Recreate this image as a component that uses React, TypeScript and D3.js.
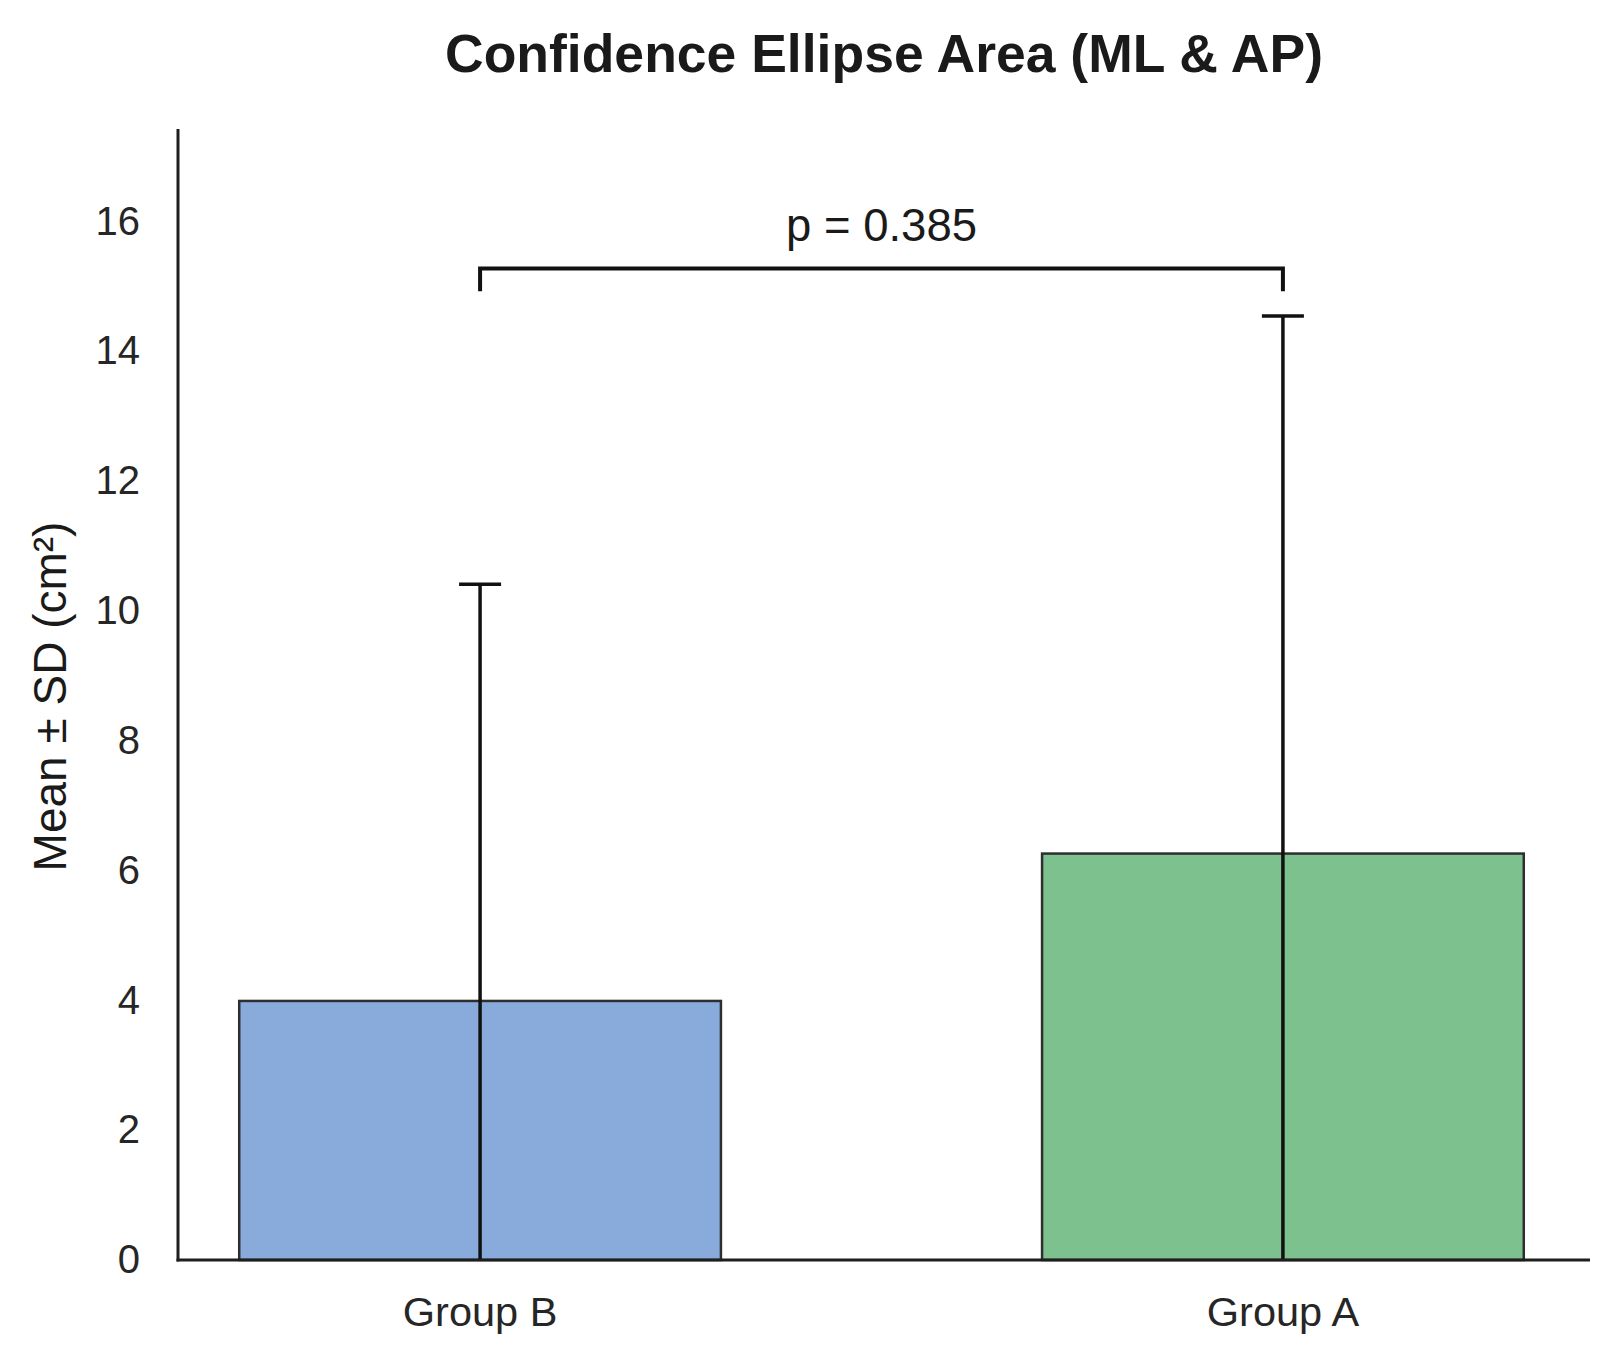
import { useRef, useEffect } from 'react';
import * as d3 from 'd3';

const groups = ['Group B', 'Group A'];
const means = [3.99, 6.26];
const sds = [6.42, 8.28];
const barColors = ['#88abdb', '#7cc18e'];
const yTicks = [0, 2, 4, 6, 8, 10, 12, 14, 16];
const pLabel = 'p = 0.385';
const bracketLevel = 15.27;
const bracketDrop = 0.35;

const WIDTH = 1618;
const HEIGHT = 1360;
const FONT = "'Liberation Sans', Arial, Helvetica, sans-serif";

export default function App() {
  const svgRef = useRef<SVGSVGElement>(null);

  useEffect(() => {
    document.body.style.margin = '0';
    const svg = d3.select(svgRef.current);
    svg.selectAll('*').remove();

    const left = 178;
    const right = 1590;
    const top = 129;
    const bottom = 1260;

    const x = d3
      .scaleBand<string>()
      .domain(groups)
      .range([left - 3, right - 2])
      .paddingInner(0.4)
      .paddingOuter(0.08);

    const y = d3.scaleLinear().domain([0, 17.42]).range([bottom, top]);

    svg.append('rect').attr('width', WIDTH).attr('height', HEIGHT).attr('fill', '#ffffff');

    // Title
    svg
      .append('text')
      .attr('x', 884)
      .attr('y', 72)
      .attr('text-anchor', 'middle')
      .attr('font-family', FONT)
      .attr('font-weight', 'bold')
      .attr('font-size', '53.5px')
      .attr('fill', '#1a1a1a')
      .text('Confidence Ellipse Area (ML & AP)');

    // Bars
    svg
      .selectAll('.bar')
      .data(groups)
      .join('rect')
      .attr('class', 'bar')
      .attr('x', (d) => x(d)!)
      .attr('width', x.bandwidth())
      .attr('y', (_d, i) => y(means[i]))
      .attr('height', (_d, i) => y(0) - y(means[i]))
      .attr('fill', (_d, i) => barColors[i])
      .attr('stroke', '#2e2e2e')
      .attr('stroke-width', 2.5);

    // Error bars (lower end clipped at zero)
    const capHalf = 21;
    groups.forEach((g, i) => {
      const cx = x(g)! + x.bandwidth() / 2;
      const hi = means[i] + sds[i];
      const lo = Math.max(0, means[i] - sds[i]);
      svg
        .append('line')
        .attr('x1', cx)
        .attr('x2', cx)
        .attr('y1', y(hi))
        .attr('y2', y(lo))
        .attr('stroke', '#111')
        .attr('stroke-width', 3.5);
      svg
        .append('line')
        .attr('x1', cx - capHalf)
        .attr('x2', cx + capHalf)
        .attr('y1', y(hi))
        .attr('y2', y(hi))
        .attr('stroke', '#111')
        .attr('stroke-width', 3.5);
    });

    // Axes
    const yAxis = d3
      .axisLeft(y)
      .tickValues(yTicks)
      .tickSize(0)
      .tickPadding(38)
      .tickFormat((d) => String(d));

    svg
      .append('g')
      .attr('transform', `translate(${left},0)`)
      .call(yAxis)
      .call((sel) => sel.select('.domain').remove())
      .call((sel) =>
        sel
          .selectAll('.tick text')
          .attr('fill', '#262626')
          .attr('font-size', '40px')
          .attr('font-family', FONT),
      );

    const xAxis = d3.axisBottom(x).tickSize(0).tickPadding(37);
    svg
      .append('g')
      .attr('transform', `translate(0,${bottom})`)
      .call(xAxis)
      .call((sel) => sel.select('.domain').remove())
      .call((sel) =>
        sel
          .selectAll('.tick text')
          .attr('fill', '#262626')
          .attr('font-size', '41.5px')
          .attr('font-family', FONT),
      );

    svg
      .append('line')
      .attr('x1', left)
      .attr('x2', left)
      .attr('y1', top)
      .attr('y2', bottom + 1.5)
      .attr('stroke', '#1e1e1e')
      .attr('stroke-width', 3);

    svg
      .append('line')
      .attr('x1', left - 1.5)
      .attr('x2', right)
      .attr('y1', bottom)
      .attr('y2', bottom)
      .attr('stroke', '#1e1e1e')
      .attr('stroke-width', 3);

    // Y label
    svg
      .append('text')
      .attr('transform', `translate(66,${(top + bottom) / 2 + 2}) rotate(-90)`)
      .attr('text-anchor', 'middle')
      .attr('font-family', FONT)
      .attr('font-size', '46px')
      .attr('fill', '#1a1a1a')
      .text('Mean ± SD (cm²)');

    // Significance bracket
    const x0 = x(groups[0])! + x.bandwidth() / 2;
    const x1 = x(groups[1])! + x.bandwidth() / 2;
    const by = y(bracketLevel);
    const bd = y(bracketLevel - bracketDrop);
    svg
      .append('path')
      .attr('d', `M${x0},${bd} L${x0},${by} L${x1},${by} L${x1},${bd}`)
      .attr('fill', 'none')
      .attr('stroke', '#111')
      .attr('stroke-width', 4);

    svg
      .append('text')
      .attr('x', (x0 + x1) / 2)
      .attr('y', by - 28)
      .attr('text-anchor', 'middle')
      .attr('font-family', FONT)
      .attr('font-size', '45.5px')
      .attr('fill', '#1a1a1a')
      .text(pLabel);
  }, []);

  return <svg ref={svgRef} width={WIDTH} height={HEIGHT} style={{ display: 'block' }} />;
}
